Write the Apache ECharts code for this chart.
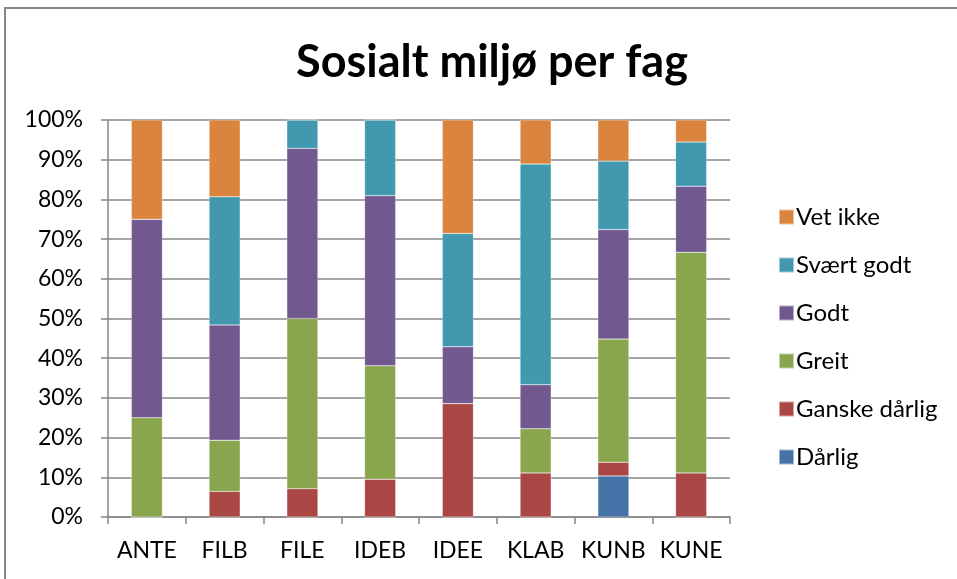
<!DOCTYPE html>
<html>
<head>
<meta charset="utf-8">
<script src="https://cdn.jsdelivr.net/npm/echarts@6/dist/echarts.min.js"></script>
<style>
  body { margin: 0; background: #fff; }
  #frame {
    position: absolute; left: 4px; top: 7px; width: 960px; height: 580px;
    border-left: 2px solid #878787; border-top: 2px solid #878787;
  }
  #chart { position: absolute; left: 0; top: 0; width: 957px; height: 579px; }
</style>
</head>
<body>
<div id="frame"></div>
<div id="chart"></div>
<script>
// kategorier (fag)
const categories = ['ANTE', 'FILB', 'FILE', 'IDEB', 'IDEE', 'KLAB', 'KUNB', 'KUNE']

// andel i prosent, per svaralternativ
const darlig        = [0, 0, 0, 0, 0, 0, 10.34, 0]
const ganskeDarlig  = [0, 6.45, 7.14, 9.52, 28.57, 11.11, 3.45, 11.11]
const greit         = [25, 12.9, 42.86, 28.57, 0, 11.11, 31.03, 55.56]
const godt          = [50, 29.03, 42.86, 42.86, 14.29, 11.11, 27.59, 16.67]
const svaertGodt    = [0, 32.26, 7.14, 19.05, 28.57, 55.56, 17.24, 11.11]
const vetIkke       = [25, 19.35, 0, 0, 28.57, 11.11, 10.34, 5.56]

const seriesNames = ['Dårlig', 'Ganske dårlig', 'Greit', 'Godt', 'Svært godt', 'Vet ikke']
const seriesData = [darlig, ganskeDarlig, greit, godt, svaertGodt, vetIkke]
const colors = ['#4572A7', '#AA4643', '#89A54E', '#71588F', '#4198AF', '#DB843D']

const font = 'Lato, "Open Sans", sans-serif'

let myChart = echarts.init(document.getElementById('chart'))
let option = {
  animation: false,
  color: colors,
  title: {
    text: 'Sosialt miljø per fag',
    left: 487,
    textAlign: 'center',
    top: 35,
    textStyle: {
      fontFamily: font,
      fontSize: 45,
      fontWeight: 'bold',
      color: '#000'
    }
  },
  legend: {
    orient: 'vertical',
    left: 773,
    top: 200,
    itemWidth: 15,
    itemHeight: 15,
    itemGap: 24,
    icon: 'rect',
    data: seriesNames.slice().reverse(),
    textStyle: {
      fontFamily: font,
      fontSize: 24,
      lineHeight: 24,
      color: '#000',
      padding: [0, 0, 0, -3]
    }
  },
  grid: {
    left: 108,
    right: 227,
    top: 120,
    bottom: 62
  },
  xAxis: {
    type: 'category',
    data: categories,
    axisLine: { lineStyle: { color: '#878787', width: 1.5 } },
    axisTick: { show: true, interval: 0, length: 7, lineStyle: { color: '#878787', width: 1.5 } },
    axisLabel: {
      interval: 0,
      fontFamily: font,
      fontSize: 23,
      color: '#000',
      margin: 22
    }
  },
  yAxis: {
    type: 'value',
    min: 0,
    max: 100,
    interval: 10,
    axisLine: { show: true, lineStyle: { color: '#878787', width: 1.5 } },
    axisTick: { show: true, length: 7, lineStyle: { color: '#878787', width: 1.5 } },
    splitLine: { lineStyle: { color: '#878787', width: 1.5 } },
    axisLabel: {
      formatter: '{value}%',
      fontFamily: font,
      fontSize: 23,
      color: '#000',
      margin: 25
    }
  },
  series: seriesNames.map((name, i) => ({
    name: name,
    type: 'bar',
    stack: 'total',
    barWidth: '40%',
    data: seriesData[i],
    itemStyle: { borderColor: 'rgba(255,255,255,0.5)', borderWidth: 0.5 }
  }))
}
myChart.setOption(option)
</script>
</body>
</html>
